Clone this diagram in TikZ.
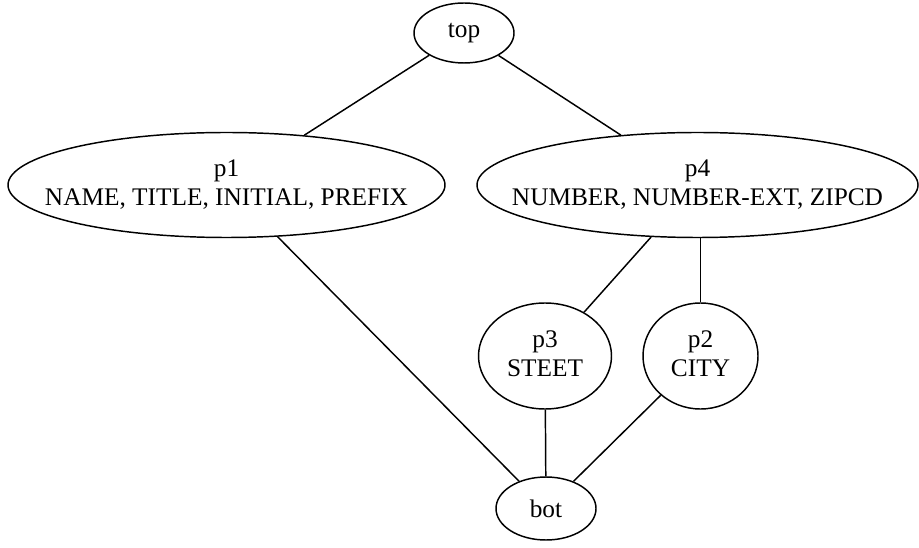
\documentclass[tikz,border=0pt]{standalone}
\usepackage{fontspec}
\setmainfont{Liberation Serif}
\usetikzlibrary{shapes.geometric}

% two-line label whose width does not enlarge the ellipse
\newcommand{\twolabel}[2]{\makebox[0pt][c]{\begin{tabular}{@{}c@{}}#1\\#2\end{tabular}}}

\begin{document}
\begin{tikzpicture}[x=0.75pt,y=-0.75pt,
  state/.style={draw, ellipse, line width=1.1pt, inner sep=0pt,
                font=\fontsize{19}{21.75}\selectfont},
  link/.style={line width=1.1pt}]
\useasboundingbox (0,0) rectangle (919,548);

\node[state, minimum width=75pt, minimum height=45pt] (top) at (464,33) {top};
\node[state, minimum width=327.75pt, minimum height=78.75pt] (p1) at (226.5,185)
  {\twolabel{p1}{NAME, TITLE, INITIAL, PREFIX}};
\node[state, minimum width=330.75pt, minimum height=78.75pt] (p4) at (697.5,185)
  {\twolabel{p4}{NUMBER, NUMBER-EXT, ZIPCD}};
\node[state, minimum width=99.75pt, minimum height=79.5pt] (p3) at (545,356)
  {\twolabel{p3}{STEET}};
\node[state, minimum width=86.25pt, minimum height=79.5pt] (p2) at (700.5,356)
  {\twolabel{p2}{CITY}};
\node[state, minimum width=75pt, minimum height=47.25pt] (bot) at (546,508.5) {bot};

\draw[link] (top) -- (p1);
\draw[link] (top) -- (p4);
\draw[link] (p1) -- (bot);
\draw[link] (p4) -- (p3);
\draw[link] (p4.south -| p2) -- (p2);
\draw[link] (p3) -- (bot);
\draw[link] (p2) -- (bot);
\end{tikzpicture}
\end{document}
